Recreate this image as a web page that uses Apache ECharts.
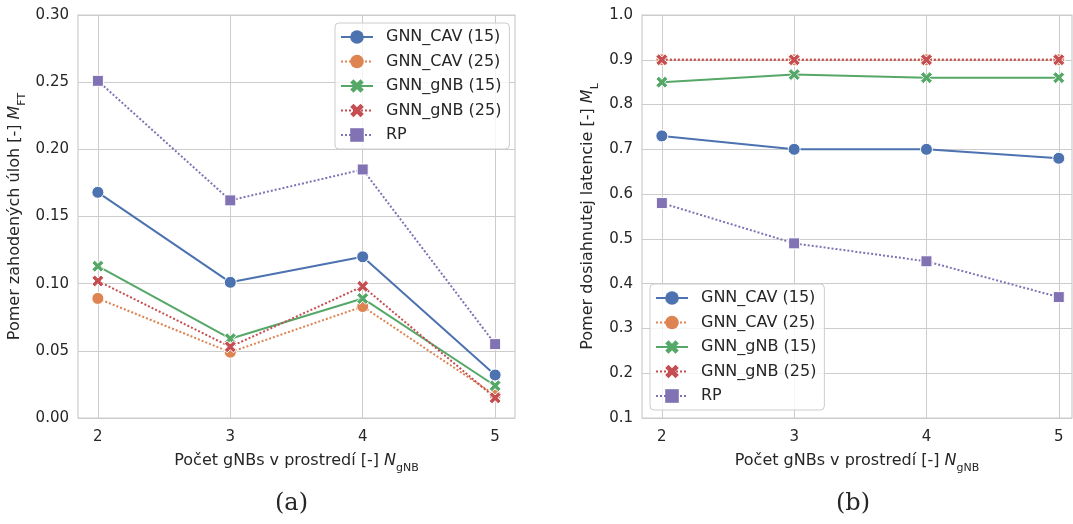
<!DOCTYPE html>
<html>
<head>
<meta charset="utf-8">
<script src="https://cdn.jsdelivr.net/npm/echarts@6/dist/echarts.min.js"></script>
<style>
  html, body { margin: 0; padding: 0; background: #fff; }
  #chart { width: 1073px; height: 524px; }
</style>
</head>
<body>
<div id="chart"></div>
<script>
// x: number of gNBs
const gnbCounts = [2, 3, 4, 5]
const seriesNames = ['GNN_CAV (15)', 'GNN_CAV (25)', 'GNN_gNB (15)', 'GNN_gNB (25)', 'RP']

// (a) dropped task ratio M_FT
const ftCav15 = [0.168, 0.101, 0.120, 0.032]
const ftCav25 = [0.089, 0.049, 0.083, 0.017]
const ftGnb15 = [0.113, 0.059, 0.089, 0.024]
const ftGnb25 = [0.102, 0.053, 0.098, 0.015]
const ftRp = [0.251, 0.162, 0.185, 0.055]

// (b) achieved latency ratio M_L
const lCav15 = [0.73, 0.70, 0.70, 0.68]
const lCav25 = [0.90, 0.90, 0.90, 0.90]
const lGnb15 = [0.85, 0.867, 0.86, 0.86]
const lGnb25 = [0.90, 0.90, 0.90, 0.90]
const lRp = [0.58, 0.49, 0.45, 0.37]

const colors = ['#4C72B0', '#DD8452', '#55A868', '#C44E52', '#8172B3']
const xMark = 'path://M0,2.4 L2.4,0 L5,2.6 L7.6,0 L10,2.4 L7.4,5 L10,7.6 L7.6,10 L5,7.4 L2.4,10 L0,7.6 L2.6,5 Z'
const symbols = ['circle', 'circle', xMark, xMark, 'rect']
const lineTypes = ['solid', 'dotted', 'solid', 'dotted', 'dotted']
const symbolSizes = [12, 12, 12, 12, 11]

const textColor = '#262626'
const fontFamily = 'DejaVu Sans'

function pairs(ys) {
  return gnbCounts.map((x, i) => [x, ys[i]])
}

function makeSeries(idx, data, axisIdx) {
  return {
    name: seriesNames[idx],
    type: 'line',
    xAxisIndex: axisIdx,
    yAxisIndex: axisIdx,
    data: pairs(data),
    symbol: symbols[idx],
    symbolSize: symbolSizes[idx],
    showAllSymbol: true,
    lineStyle: { color: colors[idx], width: 2, type: lineTypes[idx] },
    itemStyle: { color: colors[idx], borderColor: '#fff', borderWidth: 1 },
    emphasis: { disabled: true },
    animation: false,
    z: 2 + idx
  }
}

const nameRich = {
  n: { fontSize: 16, color: textColor, fontFamily: fontFamily },
  i: { fontSize: 16, color: textColor, fontFamily: fontFamily, fontStyle: 'italic' },
  s: { fontSize: 11, color: textColor, fontFamily: fontFamily, verticalAlign: 'bottom', lineHeight: 26 }
}

function xAxisCfg(gridIndex, max) {
  return {
    type: 'value',
    gridIndex: gridIndex,
    min: 1.85,
    max: max,
    name: '{n|Počet gNBs v prostredí [-] }{i|N}{s|gNB}',
    nameLocation: 'middle',
    nameGap: 30,
    nameTextStyle: { rich: nameRich },
    axisLine: { show: false },
    axisTick: { show: false, customValues: gnbCounts },
    axisLabel: {
      customValues: gnbCounts,
      color: textColor, fontSize: 15, fontFamily: fontFamily, margin: 12,
      formatter: v => String(v)
    },
    splitLine: { show: true, lineStyle: { color: '#cccccc', width: 1 } }
  }
}

function yAxisCfg(gridIndex, min, max, interval, digits, name, gap) {
  return {
    type: 'value',
    gridIndex: gridIndex,
    min: min,
    max: max,
    interval: interval,
    name: name,
    nameLocation: 'middle',
    nameGap: gap,
    nameTextStyle: { rich: nameRich },
    axisLine: { show: false },
    axisTick: { show: false },
    axisLabel: {
      color: textColor, fontSize: 15, fontFamily: fontFamily, margin: 9,
      formatter: v => v.toFixed(digits)
    },
    splitLine: { show: true, lineStyle: { color: '#cccccc', width: 1 } }
  }
}

function legendCfg(pos) {
  return Object.assign({
    orient: 'vertical',
    data: seriesNames,
    itemWidth: 32,
    itemHeight: 17,
    itemGap: 8.5,
    padding: [6, 8, 6, 5],
    backgroundColor: 'rgba(255,255,255,0.8)',
    borderColor: '#cccccc',
    borderWidth: 1,
    borderRadius: 4,
    selectedMode: false,
    itemStyle: { borderWidth: 0 },
    textStyle: { color: textColor, fontSize: 16, fontFamily: fontFamily, padding: [0, 0, 0, 8] }
  }, pos)
}

const chart = echarts.init(document.getElementById('chart'), null, { renderer: 'canvas' })

chart.setOption({
  backgroundColor: '#fff',
  animation: false,
  grid: [
    { left: 78, top: 15, width: 437, height: 403, show: true, borderColor: '#cccccc', borderWidth: 1.2, backgroundColor: 'transparent' },
    { left: 642, top: 15, width: 430, height: 403, show: true, borderColor: '#cccccc', borderWidth: 1.2, backgroundColor: 'transparent' }
  ],
  xAxis: [xAxisCfg(0, 5.15), xAxisCfg(1, 5.1)],
  yAxis: [
    yAxisCfg(0, 0, 0.30, 0.05, 2, '{n|Pomer zahodených úloh [-] }{i|M}{s|FT}', 50),
    yAxisCfg(1, 0.1, 1.0, 0.1, 1, '{n|Pomer dosiahnutej latencie [-] }{i|M}{s|L}', 41)
  ],
  legend: [
    legendCfg({ left: 335, top: 23 }),
    legendCfg({ left: 650, top: 284 })
  ],
  graphic: [
    { type: 'text', left: 275, top: 492, style: { text: '(a)', fontSize: 24, fontFamily: 'DejaVu Serif', fill: textColor } },
    { type: 'text', left: 836, top: 492, style: { text: '(b)', fontSize: 24, fontFamily: 'DejaVu Serif', fill: textColor } }
  ],
  series: [
    makeSeries(0, ftCav15, 0),
    makeSeries(1, ftCav25, 0),
    makeSeries(2, ftGnb15, 0),
    makeSeries(3, ftGnb25, 0),
    makeSeries(4, ftRp, 0),
    makeSeries(0, lCav15, 1),
    makeSeries(1, lCav25, 1),
    makeSeries(2, lGnb15, 1),
    makeSeries(3, lGnb25, 1),
    makeSeries(4, lRp, 1)
  ]
})
</script>
</body>
</html>
